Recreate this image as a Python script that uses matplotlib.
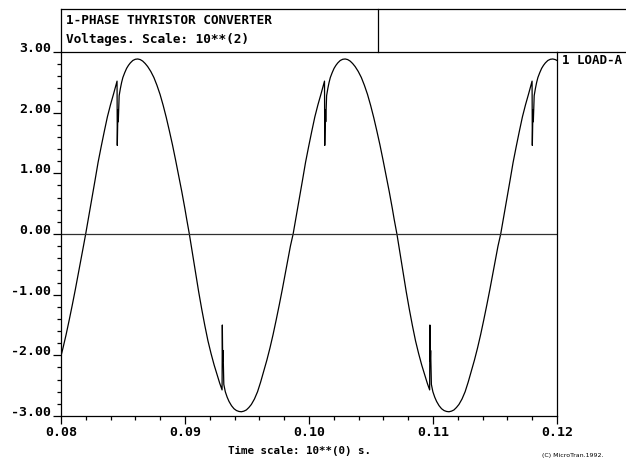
import matplotlib
matplotlib.use('Agg')
import matplotlib.pyplot as plt
from matplotlib.lines import Line2D
from matplotlib.ticker import MultipleLocator, FormatStrFormatter

# load voltage samples (time in s, voltage in units of 10**2 V)
t = [0.08000, 0.08016, 0.08041, 0.08066, 0.08091, 0.08116, 0.08141, 0.08166,
     0.08181, 0.08199,
     # positive half 1
     0.08224, 0.08249, 0.08274, 0.08299, 0.08324, 0.08349, 0.08374, 0.08399,
     0.08424, 0.08452, 0.08454, 0.08459, 0.08462, 0.08469, 0.08479, 0.08489,
     0.08499, 0.08514, 0.08529, 0.08544, 0.08559, 0.08579, 0.08599, 0.08619,
     0.08639, 0.08659, 0.08679, 0.08699, 0.08724, 0.08749, 0.08774, 0.08799,
     0.08824, 0.08849, 0.08874, 0.08899, 0.08924, 0.08949, 0.08974, 0.08999,
     0.09014, 0.09035,
     # negative half 1
     0.09060, 0.09085, 0.09110, 0.09135, 0.09160, 0.09185, 0.09210, 0.09235,
     0.09260, 0.09280, 0.09299, 0.09301, 0.09304, 0.09307, 0.09313, 0.09325,
     0.09340, 0.09355, 0.09375, 0.09395, 0.09415, 0.09435, 0.09455, 0.09475,
     0.09495, 0.09515, 0.09535, 0.09560, 0.09585, 0.09610, 0.09635, 0.09660,
     0.09685, 0.09710, 0.09735, 0.09760, 0.09785, 0.09810, 0.09835, 0.09850,
     0.09872,
     # positive half 2
     0.09897, 0.09922, 0.09947, 0.09972, 0.09997, 0.10022, 0.10047, 0.10072,
     0.10097, 0.10125, 0.10127, 0.10132, 0.10135, 0.10142, 0.10152, 0.10162,
     0.10172, 0.10187, 0.10202, 0.10217, 0.10232, 0.10252, 0.10272, 0.10292,
     0.10312, 0.10332, 0.10352, 0.10372, 0.10397, 0.10422, 0.10447, 0.10472,
     0.10497, 0.10522, 0.10547, 0.10572, 0.10597, 0.10622, 0.10647, 0.10672,
     0.10687, 0.10709,
     # negative half 2
     0.10734, 0.10759, 0.10784, 0.10809, 0.10834, 0.10859, 0.10884, 0.10909,
     0.10934, 0.10954, 0.10973, 0.10975, 0.10978, 0.10981, 0.10987, 0.10999,
     0.11014, 0.11029, 0.11049, 0.11069, 0.11089, 0.11109, 0.11129, 0.11149,
     0.11169, 0.11189, 0.11209, 0.11234, 0.11259, 0.11284, 0.11309, 0.11334,
     0.11359, 0.11384, 0.11409, 0.11434, 0.11459, 0.11484, 0.11509, 0.11524,
     0.11546,
     # positive half 3
     0.11571, 0.11596, 0.11621, 0.11646, 0.11671, 0.11696, 0.11721, 0.11746,
     0.11771, 0.11799, 0.11801, 0.11806, 0.11809, 0.11816, 0.11826, 0.11836,
     0.11846, 0.11861, 0.11876, 0.11891, 0.11906, 0.11926, 0.11946, 0.11966,
     0.11986, 0.12000]
v = [-2.01, -1.88, -1.66, -1.42, -1.17, -0.91, -0.64, -0.37,
     -0.20, 0.00,
     0.29, 0.58, 0.88, 1.18, 1.44, 1.69, 1.93, 2.13,
     2.31, 2.52, 1.46, 2.05, 1.85, 2.28, 2.40, 2.50,
     2.58, 2.66, 2.73, 2.78, 2.82, 2.86, 2.88, 2.885,
     2.875, 2.85, 2.81, 2.76, 2.68, 2.58, 2.45, 2.30,
     2.12, 1.92, 1.70, 1.47, 1.22, 0.96, 0.70, 0.42,
     0.24, 0.00,
     -0.32, -0.63, -0.95, -1.24, -1.51, -1.76, -1.97, -2.16,
     -2.33, -2.46, -2.57, -1.50, -2.10, -1.92, -2.48, -2.60,
     -2.69, -2.76, -2.83, -2.88, -2.91, -2.925, -2.93, -2.92,
     -2.90, -2.86, -2.81, -2.72, -2.60, -2.44, -2.26, -2.08,
     -1.88, -1.66, -1.42, -1.17, -0.91, -0.64, -0.37, -0.20,
     0.00,
     0.29, 0.58, 0.88, 1.18, 1.44, 1.69, 1.93, 2.13,
     2.31, 2.52, 1.46, 2.05, 1.85, 2.28, 2.40, 2.50,
     2.58, 2.66, 2.73, 2.78, 2.82, 2.86, 2.88, 2.885,
     2.875, 2.85, 2.81, 2.76, 2.68, 2.58, 2.45, 2.30,
     2.12, 1.92, 1.70, 1.47, 1.22, 0.96, 0.70, 0.42,
     0.24, 0.00,
     -0.32, -0.63, -0.95, -1.24, -1.51, -1.76, -1.97, -2.16,
     -2.33, -2.46, -2.57, -1.50, -2.10, -1.92, -2.48, -2.60,
     -2.69, -2.76, -2.83, -2.88, -2.91, -2.925, -2.93, -2.92,
     -2.90, -2.86, -2.81, -2.72, -2.60, -2.44, -2.26, -2.08,
     -1.88, -1.66, -1.42, -1.17, -0.91, -0.64, -0.37, -0.20,
     0.00,
     0.29, 0.58, 0.88, 1.18, 1.44, 1.69, 1.93, 2.13,
     2.31, 2.52, 1.46, 2.05, 1.85, 2.28, 2.40, 2.50,
     2.58, 2.66, 2.73, 2.78, 2.82, 2.86, 2.88, 2.885,
     2.875, 2.86]

title_lines = ['1-PHASE THYRISTOR CONVERTER', 'Voltages. Scale: 10**(2)']
curve_label = '1 LOAD-A'
x_label = 'Time scale: 10**(0) s.'
credit = '(C) MicroTran.1992.'

mono = 'DejaVu Sans Mono'
W, H = 626, 461

fig = plt.figure(figsize=(W / 100, H / 100), dpi=100)
fig.patch.set_facecolor('white')
# axes box in pixels: x 61..557, y 52..416
ax = fig.add_axes([61 / W, 1 - 416 / H, (557 - 61) / W, (416 - 52) / H])

ax.plot(t, v, color='black', linewidth=0.9)
ax.axhline(0, color='#303030', linewidth=0.9)

ax.set_xlim(0.08, 0.12)
ax.set_ylim(-3, 3)
ax.xaxis.set_major_locator(MultipleLocator(0.01))
ax.xaxis.set_minor_locator(MultipleLocator(0.002))
ax.yaxis.set_major_locator(MultipleLocator(1.0))
ax.yaxis.set_minor_locator(MultipleLocator(0.2))
ax.xaxis.set_major_formatter(FormatStrFormatter('%.2f'))
ax.yaxis.set_major_formatter(FormatStrFormatter('%.2f'))

ax.tick_params(which='major', direction='out', length=6, width=0.9, color='black')
ax.tick_params(which='minor', direction='out', length=3, width=0.9, color='black')
ax.tick_params(axis='x', which='major', pad=1)
ax.tick_params(axis='y', which='major', pad=1)
for lab in ax.get_xticklabels() + ax.get_yticklabels():
    lab.set_fontfamily(mono)
    lab.set_fontweight('bold')
    lab.set_fontsize(9.5)
for lab in ax.get_yticklabels():
    lab.set_verticalalignment('baseline')

for s in ax.spines.values():
    s.set_linewidth(0.9)
    s.set_color('black')

# header box above the plot
def fline(x0, y0, x1, y1):
    fig.add_artist(Line2D([x0 / W, x1 / W], [1 - y0 / H, 1 - y1 / H],
                          transform=fig.transFigure, color='black', linewidth=0.9))

fline(61, 9, 626, 9)
fline(61, 9, 61, 52)
fline(378, 9, 378, 52)
fline(557, 52, 626, 52)

fig.text(66 / W, 1 - 21 / H, title_lines[0], family=mono, weight='bold',
         fontsize=9.2, va='center', ha='left')
fig.text(66 / W, 1 - 39 / H, title_lines[1], family=mono, weight='bold',
         fontsize=9.2, va='center', ha='left')
fig.text(562 / W, 1 - 60 / H, curve_label, family=mono, weight='bold',
         fontsize=9, va='center', ha='left')
fig.text(300 / W, 1 - 451 / H, x_label, family=mono, weight='bold',
         fontsize=7.8, va='center', ha='center')
fig.text(573 / W, 1 - 455 / H, credit, family='DejaVu Sans',
         fontsize=4.5, va='center', ha='center')

plt.savefig('out.png', dpi=100)
